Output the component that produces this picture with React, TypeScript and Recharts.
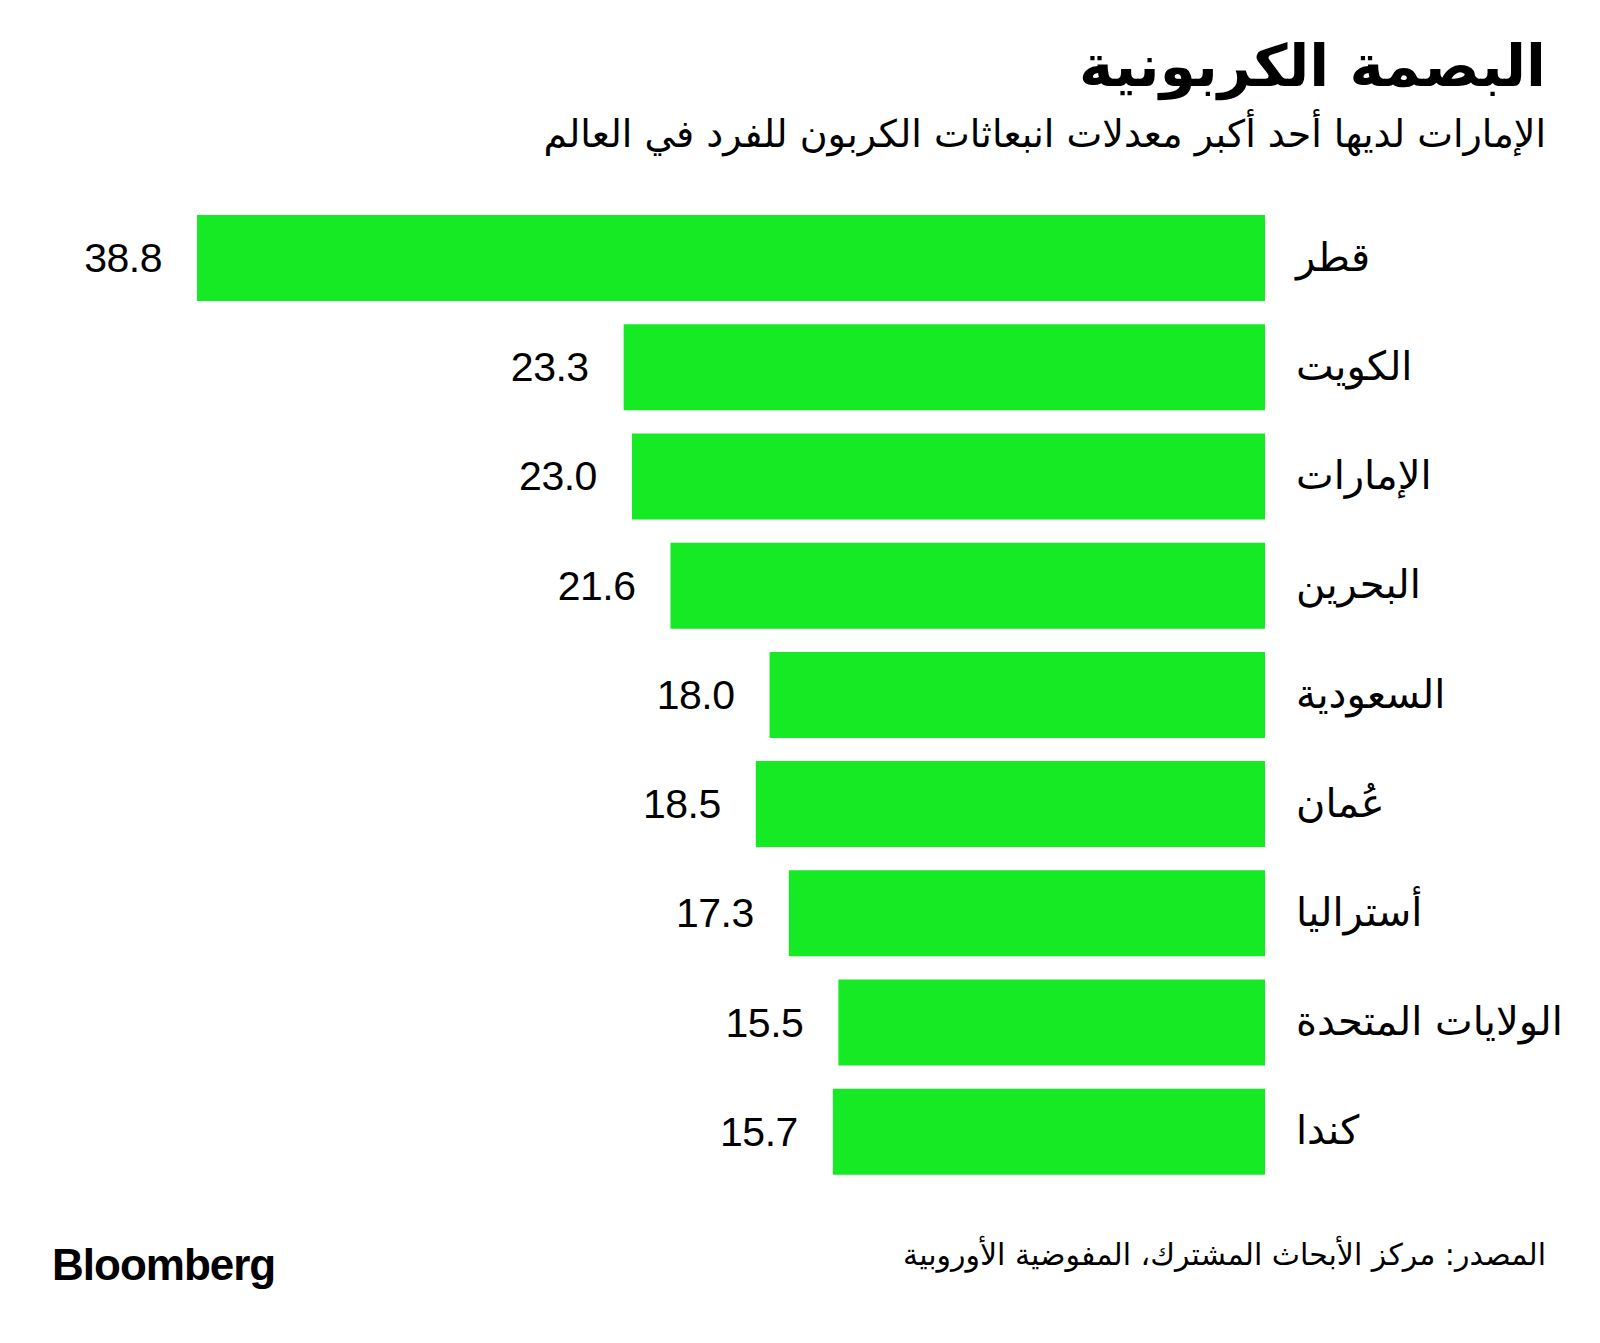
import { BarChart, Bar, XAxis, YAxis, LabelList } from "recharts"

const countries = ["قطر", "الكويت", "الإمارات", "البحرين", "السعودية", "عُمان", "أستراليا", "الولايات المتحدة", "كندا"]
const emissions = [38.8, 23.3, 23.0, 21.6, 18.0, 18.5, 17.3, 15.5, 15.7]
const xDomain: [number, number] = [0, 40]

const title = "البصمة الكربونية"
const subtitle = "الإمارات لديها أحد أكبر معدلات انبعاثات الكربون للفرد في العالم"
const source = "المصدر: مركز الأبحاث المشترك، المفوضية الأوروبية"

const data = countries.map((country, i) => ({ country, value: emissions[i] }))

const GREEN = "#15EA24"
const ARABIC = "'DejaVu Sans', sans-serif"
const LATIN = "'Liberation Sans', Arial, sans-serif"

// value sits to the left of the bar end
const ValueLabel = (props: any) => {
  const { x, y, width, height, value } = props
  const left = Math.min(x, x + width)
  return (
    <text
      x={left - 35}
      y={y + height / 2 + 14}
      textAnchor="end"
      fontFamily={LATIN}
      fontSize={41}
      letterSpacing={-0.5}
      fill="#000"
    >
      {Number(value).toFixed(1)}
    </text>
  )
}

const CountryTick = (props: any) => {
  const { x, y, payload } = props
  return (
    <text x={x} y={y} dy={13} textAnchor="start" fontFamily={ARABIC} fontSize={40} fill="#000">
      {payload.value}
    </text>
  )
}

export default function App() {
  return (
    <div style={{ position: "absolute", left: 0, top: 0, width: 1600, height: 1343, background: "#fff", overflow: "hidden" }}>
      <div
        style={{
          position: "absolute", right: 54, top: 28, direction: "rtl",
          fontFamily: ARABIC, fontWeight: 700, fontSize: 58, lineHeight: "76px", color: "#000",
        }}
      >
        {title}
      </div>
      <div
        style={{
          position: "absolute", right: 54, top: 106, direction: "rtl",
          fontFamily: ARABIC, fontSize: 38, lineHeight: "56px", color: "#000",
        }}
      >
        {subtitle}
      </div>

      <div style={{ position: "absolute", left: 0, top: 0 }}>
        <BarChart
          width={1600}
          height={1343}
          data={data}
          layout="vertical"
          margin={{ top: 203, right: 0, bottom: 157, left: 164 }}
          barSize={86}
        >
          <XAxis type="number" domain={xDomain} reversed hide />
          <YAxis
            type="category"
            dataKey="country"
            orientation="right"
            width={335}
            axisLine={false}
            tickLine={false}
            tickSize={0}
            tickMargin={31}
            interval={0}
            tick={<CountryTick />}
          />
          <Bar dataKey="value" fill={GREEN} isAnimationActive={false}>
            <LabelList dataKey="value" content={<ValueLabel />} />
          </Bar>
        </BarChart>
      </div>

      <div
        style={{
          position: "absolute", left: 52, top: 1240, fontFamily: LATIN, fontWeight: 700,
          fontSize: 44, letterSpacing: -1, color: "#000",
        }}
      >
        Bloomberg
      </div>
      <div
        style={{
          position: "absolute", right: 54, top: 1232, direction: "rtl",
          fontFamily: ARABIC, fontSize: 30, lineHeight: "46px", color: "#000",
        }}
      >
        {source}
      </div>
    </div>
  )
}
